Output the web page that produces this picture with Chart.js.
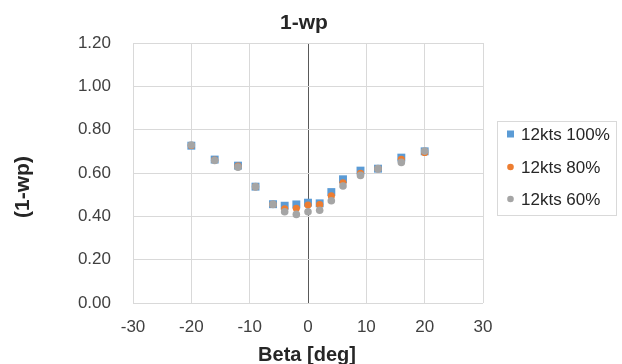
<!DOCTYPE html>
<html>
<head>
<meta charset="utf-8">
<script src="https://cdn.jsdelivr.net/npm/chart.js@4.4.1/dist/chart.umd.min.js"></script>
<style>
  html, body { margin: 0; padding: 0; background: #ffffff; }
  #wrap { width: 622px; height: 364px; position: relative; }
</style>
</head>
<body>
<div id="wrap"><canvas id="c" width="622" height="364"></canvas></div>
<script>
const chartTitle = '1-wp';
const xTitle = 'Beta [deg]';
const yTitle = '(1-wp)';
const beta = [-20, -16, -12, -9, -6, -4, -2, 0, 2, 4, 6, 9, 12, 16, 20];
const s100 = [0.726, 0.662, 0.634, 0.537, 0.456, 0.449, 0.455, 0.463, 0.460, 0.512, 0.571, 0.611, 0.620, 0.671, 0.700];
const s80  = [0.727, 0.660, 0.632, 0.537, 0.455, 0.435, 0.437, 0.452, 0.454, 0.494, 0.555, 0.598, 0.620, 0.663, 0.695];
const s60  = [0.729, 0.658, 0.627, 0.537, 0.455, 0.421, 0.409, 0.421, 0.428, 0.472, 0.540, 0.589, 0.620, 0.649, 0.701];
const seriesLabels = ['12kts 100%', '12kts 80%', '12kts 60%'];
const xTicks = [-30, -20, -10, 0, 10, 20, 30];
const yTicks = [0, 0.2, 0.4, 0.6, 0.8, 1.0, 1.2];

const FONT = "'Liberation Sans', Arial, sans-serif";
const colors = ['#5B9BD5', '#ED7D31', '#A5A5A5'];

function pts(vals) { return beta.map((b, i) => ({ x: b, y: vals[i] })); }

const overlay = {
  id: 'overlay',
  afterDraw(chart) {
    const ctx = chart.ctx;
    ctx.save();
    ctx.fillStyle = '#262626';
    // chart title
    ctx.font = "bold 21px " + FONT;
    ctx.textAlign = 'center';
    ctx.textBaseline = 'alphabetic';
    ctx.fillText(chartTitle, 304, 29);
    // x title
    ctx.font = "bold 20px " + FONT;
    ctx.fillText(xTitle, 307, 361);
    // y title
    ctx.save();
    ctx.translate(29, 187);
    ctx.rotate(-Math.PI / 2);
    ctx.font = "bold 21px " + FONT;
    ctx.fillText(yTitle, 0, 0);
    ctx.restore();
    // legend box
    ctx.strokeStyle = '#D9D9D9';
    ctx.lineWidth = 1;
    ctx.strokeRect(497.5, 121.5, 119, 94);
    const rows = [134, 167, 199];
    ctx.font = "17px " + FONT;
    ctx.textAlign = 'left';
    ctx.textBaseline = 'middle';
    chart.data.datasets.forEach((ds, i) => {
      const y = rows[i];
      ctx.fillStyle = ds.backgroundColor;
      if (ds.pointStyle === 'rect') {
        ctx.fillRect(507, y - 3.5, 7, 7);
      } else {
        ctx.beginPath();
        ctx.arc(510.5, y, 3.3, 0, Math.PI * 2);
        ctx.fill();
      }
      ctx.fillStyle = '#262626';
      ctx.fillText(ds.label, 521, y + 1);
    });
    ctx.restore();
  }
};

new Chart(document.getElementById('c'), {
  type: 'scatter',
  data: {
    datasets: [
      { label: seriesLabels[0], data: pts(s100), backgroundColor: colors[0], pointStyle: 'rect', pointRadius: 5.6, pointHoverRadius: 5.6, pointBorderWidth: 0, order: 3 },
      { label: seriesLabels[1], data: pts(s80), backgroundColor: colors[1], pointStyle: 'circle', pointRadius: 3.6, pointHoverRadius: 3.6, pointBorderWidth: 0, order: 2 },
      { label: seriesLabels[2], data: pts(s60), backgroundColor: colors[2], pointStyle: 'circle', pointRadius: 3.8, pointHoverRadius: 3.8, pointBorderWidth: 0, order: 1 }
    ]
  },
  options: {
    responsive: false,
    animation: false,
    events: [],
    layout: { padding: { left: 0, right: 139, top: 43, bottom: 0 } },
    plugins: { legend: { display: false }, title: { display: false }, tooltip: { enabled: false } },
    scales: {
      x: {
        type: 'linear', min: -30, max: 30,
        afterFit(s) { s.height = 61; },
        afterBuildTicks(s) { s.ticks = xTicks.map(v => ({ value: v })); },
        grid: {
          color: ctx => (ctx.tick && ctx.tick.value === 0) ? '#595959' : '#D9D9D9',
          lineWidth: 1, drawTicks: false
        },
        border: { display: false },
        ticks: { padding: 14, color: '#404040', font: { family: FONT, size: 17 }, maxRotation: 0, callback: v => String(v) }
      },
      y: {
        type: 'linear', min: 0, max: 1.2,
        afterFit(s) { s.width = 133; },
        afterBuildTicks(s) { s.ticks = yTicks.map(v => ({ value: v })); },
        grid: { color: '#D9D9D9', lineWidth: 1, drawTicks: false },
        border: { display: false },
        ticks: { padding: 22, color: '#404040', font: { family: FONT, size: 17 }, callback: v => Number(v).toFixed(2) }
      }
    }
  },
  plugins: [overlay]
});
</script>
</body>
</html>
